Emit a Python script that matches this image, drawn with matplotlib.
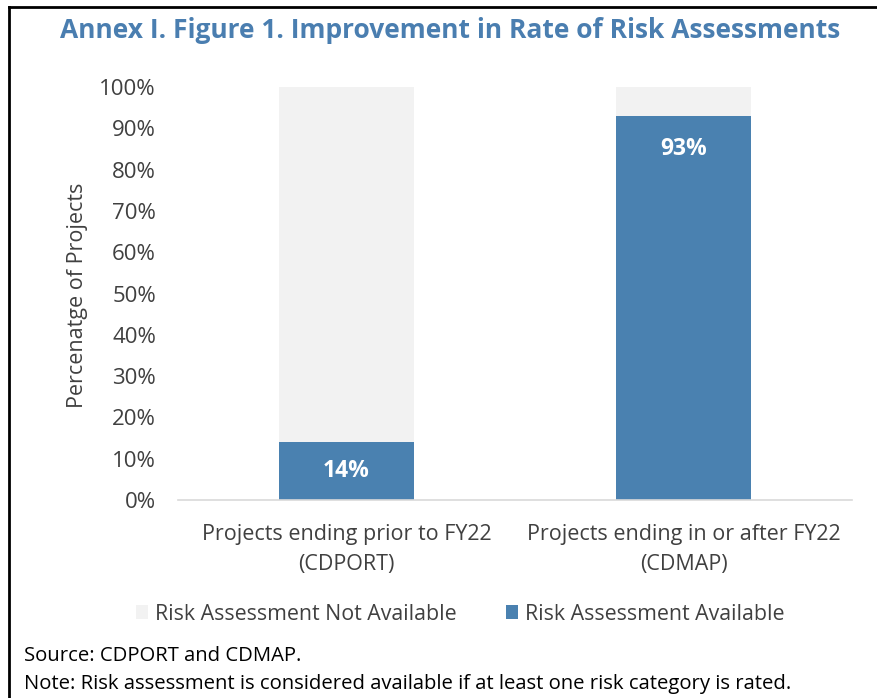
import matplotlib
matplotlib.use("Agg")
import matplotlib.pyplot as plt
from matplotlib.patches import Patch
from matplotlib.lines import Line2D
from matplotlib.ticker import FuncFormatter

categories = ["Projects ending prior to FY22\n(CDPORT)", "Projects ending in or after FY22\n(CDMAP)"]
available = [14, 93]
total = [100, 100]
not_available = [t - a for t, a in zip(total, available)]
yticks = list(range(0, 101, 10))

BLUE = "#4A81B0"
GRAY = "#F2F2F2"
TITLE_C = "#4A7EB0"
TXT = "#404040"

plt.rcParams['font.family'] = ['Open Sans', 'DejaVu Sans']

W, H = 878, 698
fig = plt.figure(figsize=(W / 100, H / 100), dpi=100)

def fx(px):
    return px / W

def fy(py):
    return 1 - py / H

ax = fig.add_axes([fx(178), fy(500), fx(852) - fx(178), fy(87) - fy(500)])
x = list(range(len(categories)))
ax.bar(x, available, width=0.4, color=BLUE, zorder=2)
ax.bar(x, not_available, bottom=available, width=0.4, color=GRAY, zorder=2)
for xi, v in zip(x, available):
    ax.text(xi, v / 2 if v < 50 else v - 8, f"{v}%", ha="center", va="center",
            color="white", fontsize=16.5, fontweight="bold")

ax.set_xlim(-0.5, 1.5)
ax.set_ylim(0, 100)
ax.set_yticks(yticks)
ax.yaxis.set_major_formatter(FuncFormatter(lambda v, p: f"{int(v)}%"))
ax.set_xticks(x)
ax.set_xticklabels(categories, fontsize=15.5, color=TXT, linespacing=1.6)
ax.tick_params(axis="y", labelsize=16, labelcolor=TXT, length=0, pad=15.8)
ax.tick_params(axis="x", length=0, pad=17)
for s in ["top", "right", "left"]:
    ax.spines[s].set_visible(False)
ax.spines["bottom"].set_color("#D9D9D9")
ax.spines["bottom"].set_linewidth(1.2)
fig.text(fx(78), fy(295), "Percenatge of Projects", rotation=90, ha="center", va="center",
         fontsize=15.5, color=TXT)

fig.text(fx(450), fy(30), "Annex I. Figure 1. Improvement in Rate of Risk Assessments",
         ha="center", va="center", fontsize=19, fontweight="bold", color=TITLE_C)

handles = [Patch(facecolor=GRAY, edgecolor="none"), Patch(facecolor=BLUE, edgecolor="none")]
fig.legend(handles, ["Risk Assessment Not Available", "Risk Assessment Available"],
           loc="center", bbox_to_anchor=(fx(460), fy(614)), ncol=2, frameon=False,
           fontsize=15.4, handlelength=0.6, handleheight=0.6, handletextpad=0.3,
           columnspacing=2.3, labelcolor="#404040")

fig.text(fx(24), fy(656), "Source: CDPORT and CDMAP.", ha="left", va="center", fontsize=14.6, color="black")
fig.text(fx(24), fy(684), "Note: Risk assessment is considered available if at least one risk category is rated.",
         ha="left", va="center", fontsize=14.6, color="black")

fig.add_artist(Line2D([fx(9), fx(9)], [fy(7), 0], color="black", lw=2))
fig.add_artist(Line2D([fx(9), 1], [fy(7), fy(7)], color="black", lw=2))

fig.savefig("out.png", dpi=100)
